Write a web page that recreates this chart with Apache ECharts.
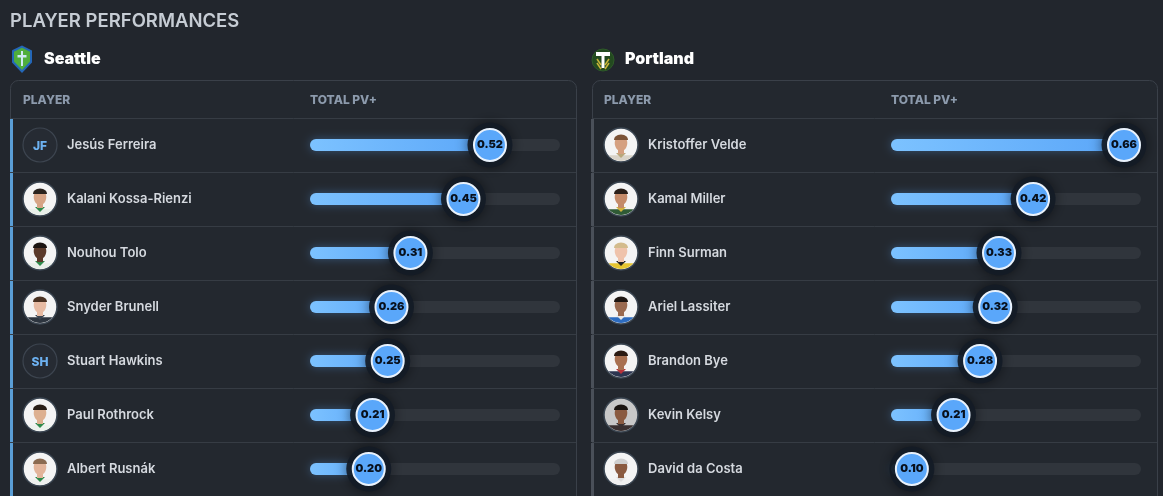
<!DOCTYPE html>
<html><head><meta charset="utf-8">
<script src="https://cdn.jsdelivr.net/npm/echarts@6/dist/echarts.min.js"></script>
<style>html,body{margin:0;padding:0;background:#22262d;}#c{width:1163px;height:496px;}</style>
</head><body><div id="c"></div>
<script>
// ---- data ----
const seattleNames = ['Jesús Ferreira','Kalani Kossa-Rienzi','Nouhou Tolo','Snyder Brunell','Stuart Hawkins','Paul Rothrock','Albert Rusnák'];
const seattleValues = [0.52,0.45,0.31,0.26,0.25,0.21,0.20];
const seattleInitials = ['JF',null,null,null,'SH',null,null];
const portlandNames = ['Kristoffer Velde','Kamal Miller','Finn Surman','Ariel Lassiter','Brandon Bye','Kevin Kelsy','David da Costa'];
const portlandValues = [0.66,0.42,0.33,0.32,0.28,0.21,0.10];
const portlandInitials = [null,null,null,null,null,null,null];
const scaleMax = 0.66;

// ---- avatar styles (decoration only) ----
const seattleFaces = [
  null,
  {bg:'#f4f4f4',skin:'#d6a486',hair:'#2a231e',shirt:'#e9efe9',trim:'#2f8a4c'},
  {bg:'#f4f4f4',skin:'#5b3a2a',hair:'#1b1411',shirt:'#e9efe9',trim:'#2f8a4c'},
  {bg:'#f4f4f4',skin:'#e7bba3',hair:'#4a3222',shirt:'#2d353f',trim:'#3b4450'},
  null,
  {bg:'#f4f4f4',skin:'#ddb090',hair:'#2a1f18',shirt:'#edf2ed',trim:'#2f8a4c'},
  {bg:'#f4f4f4',skin:'#e2b49a',hair:'#8a6a50',shirt:'#eef0ee',trim:'#2f8a4c'}
];
const portlandFaces = [
  {bg:'#f4f4f4',skin:'#d5a080',hair:'#7a5236',shirt:'#d9d3c8',trim:'#b9a77a'},
  {bg:'#f4f4f4',skin:'#c48a68',hair:'#2a1f18',shirt:'#2f5a35',trim:'#d2b23a'},
  {bg:'#f4f4f4',skin:'#efc3ab',hair:'#d3bb8c',shirt:'#e6c530',trim:'#222'},
  {bg:'#f4f4f4',skin:'#9a6a50',hair:'#1e1612',shirt:'#2d6cc0',trim:'#e8e8e8'},
  {bg:'#f4f4f4',skin:'#a87050',hair:'#2a1a12',shirt:'#2c3550',trim:'#b8323a'},
  {bg:'#c8c8c8',skin:'#8a5a40',hair:'#1a1410',shirt:'#3a3030',trim:'#3a3030'},
  {bg:'#f4f4f4',skin:'#8a5a40',hair:'#cfcfcf',shirt:'#f0f0f0',trim:'#ddd'}
];

const FONT = 'Inter, "Noto Sans", sans-serif';

function ellipsePts(cx, cy, rx, ry, a0, a1, n) {
  const pts = [];
  for (let i = 0; i <= n; i++) {
    const a = a0 + (a1 - a0) * i / n;
    pts.push([cx + rx * Math.cos(a), cy + ry * Math.sin(a)]);
  }
  return pts;
}

function rowRenderer(faces, initials, accent) {
  return function (params, api) {
    const idx = api.value(1);
    const c = api.coord([0, idx]);
    const band = api.size([0, 1])[1];
    const x0 = c[0], cy = c[1];
    const top = cy - band / 2;
    const ax = x0 - 270, r = 17;
    const ch = [
      {type:'line', shape:{x1:x0-299,y1:top+0.5,x2:x0+266,y2:top+0.5}, style:{stroke:'#363c44',lineWidth:1}},
      {type:'rect', shape:{x:x0-300,y:top+1,width:3,height:band-1}, style:{fill:accent}}
    ];
    const ini = initials[idx];
    const f = faces[idx];
    if (ini) {
      ch.push({type:'circle', shape:{cx:ax,cy:cy,r:r}, style:{fill:'#262b33',stroke:'#3d4550',lineWidth:1.2}});
      ch.push({type:'text', style:{text:ini,x:ax,y:cy+1,textAlign:'center',textVerticalAlign:'middle',fill:'#6db2f2',font:'800 12px '+FONT}});
    } else if (f) {
      ch.push({type:'circle', shape:{cx:ax,cy:cy,r:r}, style:{fill:f.bg,stroke:'#3b4652',lineWidth:1.5}});
      ch.push({type:'polygon', shape:{points:ellipsePts(ax,cy,r-1,r-1,Math.PI*0.22,Math.PI*0.78,12)}, style:{fill:f.shirt}});
      ch.push({type:'polygon', shape:{points:[[ax-5,cy+8],[ax+5,cy+8],[ax,cy+13]]}, style:{fill:f.trim}});
      ch.push({type:'rect', shape:{x:ax-3,y:cy+2,width:6,height:7}, style:{fill:f.skin}});
      ch.push({type:'polygon', shape:{points:ellipsePts(ax,cy-2,6.3,8,0,Math.PI*2,24)}, style:{fill:f.skin}});
      ch.push({type:'polygon', shape:{points:ellipsePts(ax,cy-5,7,5.5,Math.PI,Math.PI*2,14)}, style:{fill:f.hair}});
    }
    return {type:'group', children:ch};
  };
}

function panelSeries(gi, names, values, initials, faces, accent) {
  const rows = names.map((n, i) => [0, i]);
  return [
    {type:'custom', xAxisIndex:gi, yAxisIndex:gi, clip:false, silent:true, z:1,
     renderItem: rowRenderer(faces, initials, accent), encode:{x:0,y:1}, data: rows},
    {type:'bar', xAxisIndex:gi, yAxisIndex:gi, barWidth:12, z:2, silent:true,
     showBackground:true, backgroundStyle:{color:'#30353c',borderRadius:6, opacity:1},
     itemStyle:{borderRadius:6, opacity:1, shadowBlur:10, shadowColor:'rgba(90,165,248,0.35)',
       color:{type:'linear',x:0,y:0,x2:1,y2:0,colorStops:[{offset:0,color:'#7cc2ff'},{offset:1,color:'#58a4f8'}]}},
     data: values},
    {type:'scatter', xAxisIndex:gi, yAxisIndex:gi, z:3, silent:true, symbolSize:45, symbolOffset:[-17,0],
     itemStyle:{color:'rgba(19,27,38,0.92)', opacity:1, shadowBlur:12, shadowColor:'rgba(0,0,0,0.55)'},
     data: values},
    {type:'scatter', xAxisIndex:gi, yAxisIndex:gi, z:4, silent:true, symbolSize:32, symbolOffset:[-17,0],
     itemStyle:{color:'#5aa7fa', opacity:1, borderColor:'#e9f2fc', borderWidth:2},
     label:{show:true, position:'inside', formatter:p=>p.value.toFixed(2), color:'#08101c', fontSize:11, fontWeight:900, fontFamily:FONT, padding:[2,0,0,0]},
     data: values}
  ];
}

const chart = echarts.init(document.getElementById('c'), null, {renderer:'canvas'});

function header(x, gridX) {
  return [
    {type:'text', left:x+13, top:94, style:{text:'PLAYER', fill:'#8c9aac', font:'800 12px '+FONT}},
    {type:'text', left:gridX, top:94, style:{text:'TOTAL PV+', fill:'#8c9aac', font:'800 12px '+FONT}}
  ];
}

const nameLabel = {align:'left', margin:243, color:'#d5d9df', fontSize:13, fontWeight:600, fontFamily:FONT, padding:[3,0,0,0]};

chart.setOption({
  backgroundColor:'#22262d',
  animation:false,
  grid:[
    {left:310, width:250, top:118, height:378},
    {left:891, width:250, top:118, height:378}
  ],
  xAxis:[0,1].map(i => ({gridIndex:i, type:'value', min:0, max:scaleMax, show:false})),
  yAxis:[
    {gridIndex:0, type:'category', inverse:true, data:seattleNames, axisLine:{show:false}, axisTick:{show:false}, splitLine:{show:false}, axisLabel:nameLabel},
    {gridIndex:1, type:'category', inverse:true, data:portlandNames, axisLine:{show:false}, axisTick:{show:false}, splitLine:{show:false}, axisLabel:nameLabel}
  ],
  graphic:[
    {type:'rect', z:-10, shape:{x:10.5,y:80.5,width:566,height:440,r:8}, style:{fill:'#23282f',stroke:'#3a4049',lineWidth:1}},
    {type:'rect', z:-10, shape:{x:592.5,y:80.5,width:565,height:440,r:8}, style:{fill:'#23282f',stroke:'#3a4049',lineWidth:1}},
    {type:'text', left:10, top:12, style:{text:'PLAYER PERFORMANCES', fill:'#c6ccd4', font:'600 18.5px '+FONT}},
    // Seattle logo
    {type:'polygon', shape:{points:[[13,51],[22,46.5],[31,51],[31,62],[22,71.5],[13,62]]}, style:{fill:'#4fae3c',stroke:'#2467b8',lineWidth:2}},
    {type:'line', shape:{x1:22,y1:51,x2:22,y2:66}, style:{stroke:'#cfe8f5',lineWidth:2}},
    {type:'rect', shape:{x:17.5,y:55,width:9,height:2.5}, style:{fill:'#cfe8f5'}},
    {type:'text', left:44, top:51, style:{text:'Seattle', fill:'#ffffff', font:'900 16px '+FONT}},
    // Portland logo
    {type:'circle', shape:{cx:603,cy:60,r:11}, style:{fill:'#234a1f',stroke:'#2f5a2a',lineWidth:1}},
    {type:'line', shape:{x1:597,y1:63,x2:601,y2:69}, style:{stroke:'#c9b43a',lineWidth:1.5}},
    {type:'line', shape:{x1:597,y1:59,x2:601,y2:65}, style:{stroke:'#c9b43a',lineWidth:1.5}},
    {type:'line', shape:{x1:609,y1:63,x2:605,y2:69}, style:{stroke:'#c9b43a',lineWidth:1.5}},
    {type:'line', shape:{x1:609,y1:59,x2:605,y2:65}, style:{stroke:'#c9b43a',lineWidth:1.5}},
    {type:'rect', shape:{x:596,y:52,width:14,height:4}, style:{fill:'#ffffff'}},
    {type:'rect', shape:{x:601.5,y:52,width:3,height:16}, style:{fill:'#ffffff'}},
    {type:'text', left:625, top:51, style:{text:'Portland', fill:'#ffffff', font:'900 16px '+FONT}},
    ...header(10, 310),
    ...header(591, 891)
  ],
  series:[
    ...panelSeries(0, seattleNames, seattleValues, seattleInitials, seattleFaces, '#5a9ed6'),
    ...panelSeries(1, portlandNames, portlandValues, portlandInitials, portlandFaces, '#4a5059')
  ]
});
</script></body></html>
